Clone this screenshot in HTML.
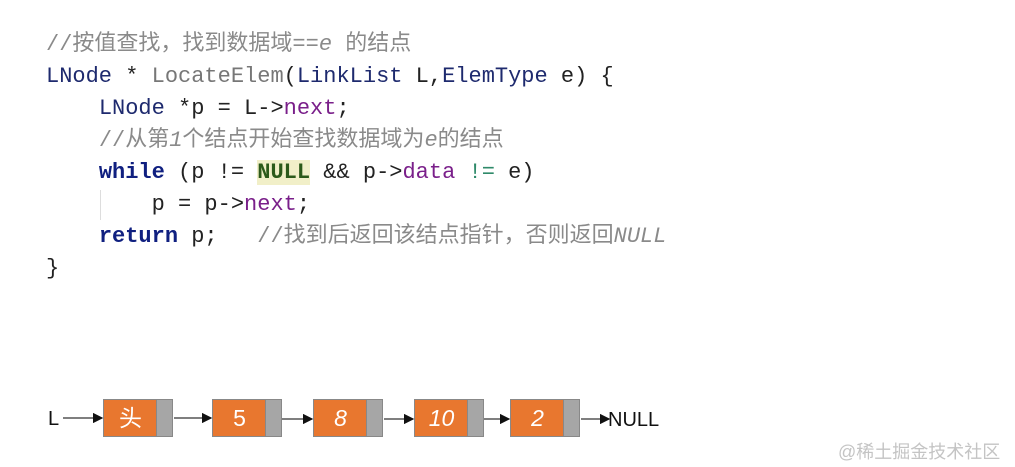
<!DOCTYPE html>
<html><head><meta charset="utf-8"><style>
body{margin:0;width:1015px;height:467px;background:#fff;position:relative;overflow:hidden}
.code{position:absolute;left:46px;top:29px;font-family:"Liberation Mono","Noto Sans CJK SC",monospace;font-size:22px;line-height:32px;color:#222;white-space:pre}
.c{color:#8a8a8a;font-family:"Liberation Mono","Noto Sans CJK SC",monospace}
.t{color:#1e2a6e}
.k{color:#102080;font-weight:bold}
.f{color:#777}
.m{color:#7a1f8a}
.g{color:#2f8a6a}
.n{background:#f1efc8;color:#2c5a1a;font-weight:bold}
.node{position:absolute;top:399px;height:38px;width:70px;background:#e8772f;border:1px solid #888;box-sizing:border-box}
.node .gr{position:absolute;right:0;top:0;bottom:0;width:15px;background:#a6a6a6;border-left:1px solid #888}
.node span{position:absolute;left:0;right:15px;top:0;line-height:36px;text-align:center;color:#fff;font-family:"Liberation Sans","Noto Sans CJK SC",sans-serif;font-size:23px;font-style:italic}
.lbl{position:absolute;font-family:"Liberation Sans",sans-serif;font-size:20px;color:#111}
</style></head><body>
<div class="code"><span class="c">//按值查找，找到数据域==<i>e</i> 的结点</span>
<span class="t">LNode</span> * <span class="f">LocateElem</span>(<span class="t">LinkList</span> L,<span class="t">ElemType</span> e) {
    <span class="t">LNode</span> *p = L-&gt;<span class="m">next</span>;
    <span class="c">//从第<i>1</i>个结点开始查找数据域为<i>e</i>的结点</span>
    <span class="k">while</span> (p != <span class="n">NULL</span> &amp;&amp; p-&gt;<span class="m">data</span> <span class="g">!=</span> e)
        p = p-&gt;<span class="m">next</span>;
    <span class="k">return</span> p;   <span class="c">//找到后返回该结点指针，否则返回<i>NULL</i></span>
}</div>
<div style="position:absolute;left:100px;top:190px;width:1px;height:30px;background:#ddd"></div>
<div class="lbl" style="left:48px;top:408px">L</div>
<div class="node" style="left:103px"><span style="font-style:normal">头</span><div class="gr"></div></div>
<div class="node" style="left:212px"><span style="font-style:normal">5</span><div class="gr"></div></div>
<div class="node" style="left:313px"><span>8</span><div class="gr"></div></div>
<div class="node" style="left:414px"><span>10</span><div class="gr"></div></div>
<div class="node" style="left:510px"><span>2</span><div class="gr"></div></div>
<div class="lbl" style="left:608px;top:409px">NULL</div>
<svg width="1015" height="467" style="position:absolute;left:0;top:0">
<defs><marker id="a" markerWidth="8" markerHeight="8" refX="7" refY="4" orient="auto"><path d="M0,0L8,4L0,8z" fill="#111"/></marker></defs>
<g stroke="#333" stroke-width="1.3" marker-end="url(#a)">
<line x1="63" y1="418" x2="102" y2="418"/>
<line x1="174" y1="418" x2="211" y2="418"/>
<line x1="282" y1="419" x2="312" y2="419"/>
<line x1="384" y1="419" x2="413" y2="419"/>
<line x1="484" y1="419" x2="509" y2="419"/>
<line x1="581" y1="419" x2="609" y2="419"/>
</g></svg>
<div style="position:absolute;left:838px;top:438px;font-family:'Liberation Sans','Noto Sans CJK SC',sans-serif;font-size:18px;color:#c4c4c4">@稀土掘金技术社区</div>
</body></html>
